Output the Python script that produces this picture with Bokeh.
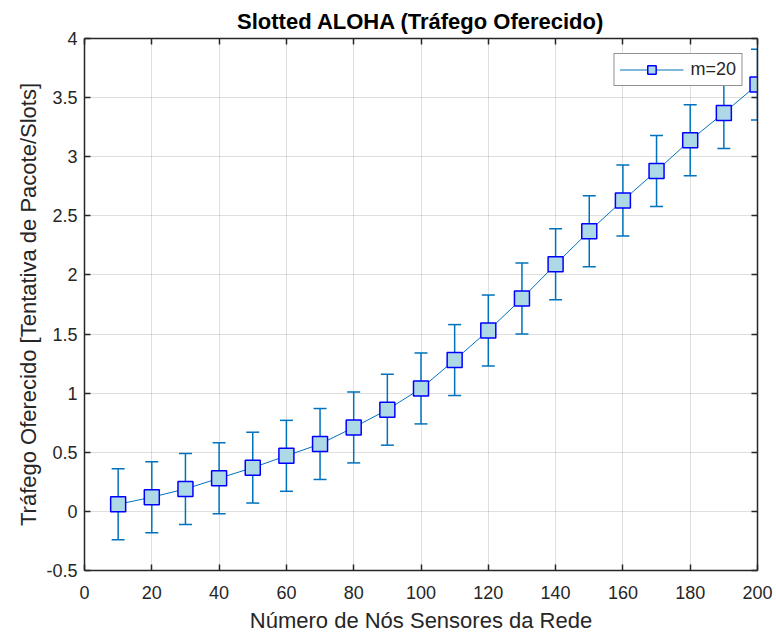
from bokeh.plotting import figure
from bokeh.models import (ColumnDataSource, Whisker, TeeHead, FixedTicker, LinearAxis,
                          Legend, LegendItem, Range1d)
from bokeh.embed import file_html
from bokeh.resources import INLINE

# ---- data ----
nodes = [10, 20, 30, 40, 50, 60, 70, 80, 90, 100,
         110, 120, 130, 140, 150, 160, 170, 180, 190, 200]
traffic = [0.06, 0.12, 0.19, 0.28, 0.37, 0.47, 0.57, 0.71, 0.86, 1.04,
           1.28, 1.53, 1.80, 2.09, 2.37, 2.63, 2.88, 3.14, 3.37, 3.61]
err = [0.30, 0.30, 0.30, 0.30, 0.30, 0.30, 0.30, 0.30, 0.30, 0.30,
       0.30, 0.30, 0.30, 0.30, 0.30, 0.30, 0.30, 0.30, 0.30, 0.30]
x_ticks = [0, 20, 40, 60, 80, 100, 120, 140, 160, 180, 200]
y_ticks = [-0.5, 0, 0.5, 1, 1.5, 2, 2.5, 3, 3.5, 4]
y_tick_labels = ["-0.5", "0", "0.5", "1", "1.5", "2", "2.5", "3", "3.5", "4"]
series_label = "m=20"
title_text = "Slotted ALOHA (Tráfego Oferecido)"
x_label = "Número de Nós Sensores da Rede"
y_label = "Tráfego Oferecido [Tentativa de Pacote/Slots]"

FONT = "Liberation Sans"
TXT = "#262626"
BLUE = "#0072BD"

src = ColumnDataSource(dict(
    x=nodes, y=traffic,
    lower=[t - e for t, e in zip(traffic, err)],
    upper=[t + e for t, e in zip(traffic, err)],
))

p = figure(width=776, height=635, x_range=Range1d(0, 200), y_range=Range1d(-0.5, 4),
           output_backend="svg", toolbar_location=None,
           min_border_left=84, min_border_right=19, min_border_top=38, min_border_bottom=65,
           title=title_text)
p.background_fill_color = "white"
p.border_fill_color = "white"
p.outline_line_color = None

p.title.align = "center"
p.title.text_font = FONT
p.title.text_font_size = "22px"
p.title.text_font_style = "bold"
p.title.text_color = "#000000"

def style_axis(ax, show_labels=True):
    ax.axis_line_color = TXT
    ax.axis_line_width = 1.5
    ax.major_tick_line_color = TXT
    ax.major_tick_line_width = 1.5
    ax.major_tick_in = 6
    ax.major_tick_out = 0
    ax.minor_tick_line_color = None
    ax.major_label_text_font = FONT
    ax.major_label_text_color = TXT
    ax.axis_label_text_font = FONT
    ax.axis_label_text_color = TXT
    ax.axis_label_text_font_style = "normal"
    ax.axis_label_text_font_size = "22px"
    if show_labels:
        ax.major_label_text_font_size = "18px"
    else:
        ax.major_label_text_font_size = "1px"
        ax.major_label_standoff = 0

xax = p.xaxis[0]
yax = p.yaxis[0]
xax.ticker = FixedTicker(ticks=x_ticks)
yax.ticker = FixedTicker(ticks=y_ticks)
yax.major_label_overrides = {t: l for t, l in zip(y_ticks, y_tick_labels)}
xax.major_label_overrides = {t: str(t) for t in x_ticks}
style_axis(xax)
style_axis(yax)
xax.axis_label = x_label
yax.axis_label = y_label
xax.major_label_standoff = 15
yax.major_label_standoff = 7
xax.axis_label_standoff = 6
yax.axis_label_standoff = 2

# box axes (ticks only, no labels) on top and right
top = LinearAxis(ticker=FixedTicker(ticks=x_ticks),
                 major_label_overrides={t: "" for t in x_ticks})
right = LinearAxis(ticker=FixedTicker(ticks=y_ticks),
                   major_label_overrides={t: "" for t in y_ticks})
style_axis(top, show_labels=False)
style_axis(right, show_labels=False)
p.add_layout(top, "above")
p.add_layout(right, "right")

p.grid.grid_line_color = TXT
p.grid.grid_line_alpha = 0.15
p.grid.grid_line_width = 1
p.xgrid.ticker = FixedTicker(ticks=x_ticks)
p.ygrid.ticker = FixedTicker(ticks=y_ticks)

w = Whisker(base="x", upper="upper", lower="lower", source=src,
            line_color=BLUE, line_width=1.5, level="underlay",
            upper_head=TeeHead(size=13, line_color=BLUE, line_width=1.5),
            lower_head=TeeHead(size=13, line_color=BLUE, line_width=1.5))
p.add_layout(w)

line_r = p.line("x", "y", source=src, line_color=BLUE, line_width=1)
sq_r = p.scatter("x", "y", source=src, marker="square", size=15,
                 fill_color="#ADD8E6", line_color="#0000FF", line_width=1.5)

legend = Legend(items=[LegendItem(label=series_label, renderers=[line_r, sq_r])],
                location="top_right", margin=15, padding=5, spacing=0,
                glyph_width=64, glyph_height=21, label_height=21, label_standoff=7,
                label_text_font=FONT, label_text_font_size="18px", label_text_color=TXT,
                border_line_color=TXT, border_line_width=1, background_fill_alpha=1)
p.add_layout(legend)

open("out.html", "w").write(file_html(p, INLINE))
